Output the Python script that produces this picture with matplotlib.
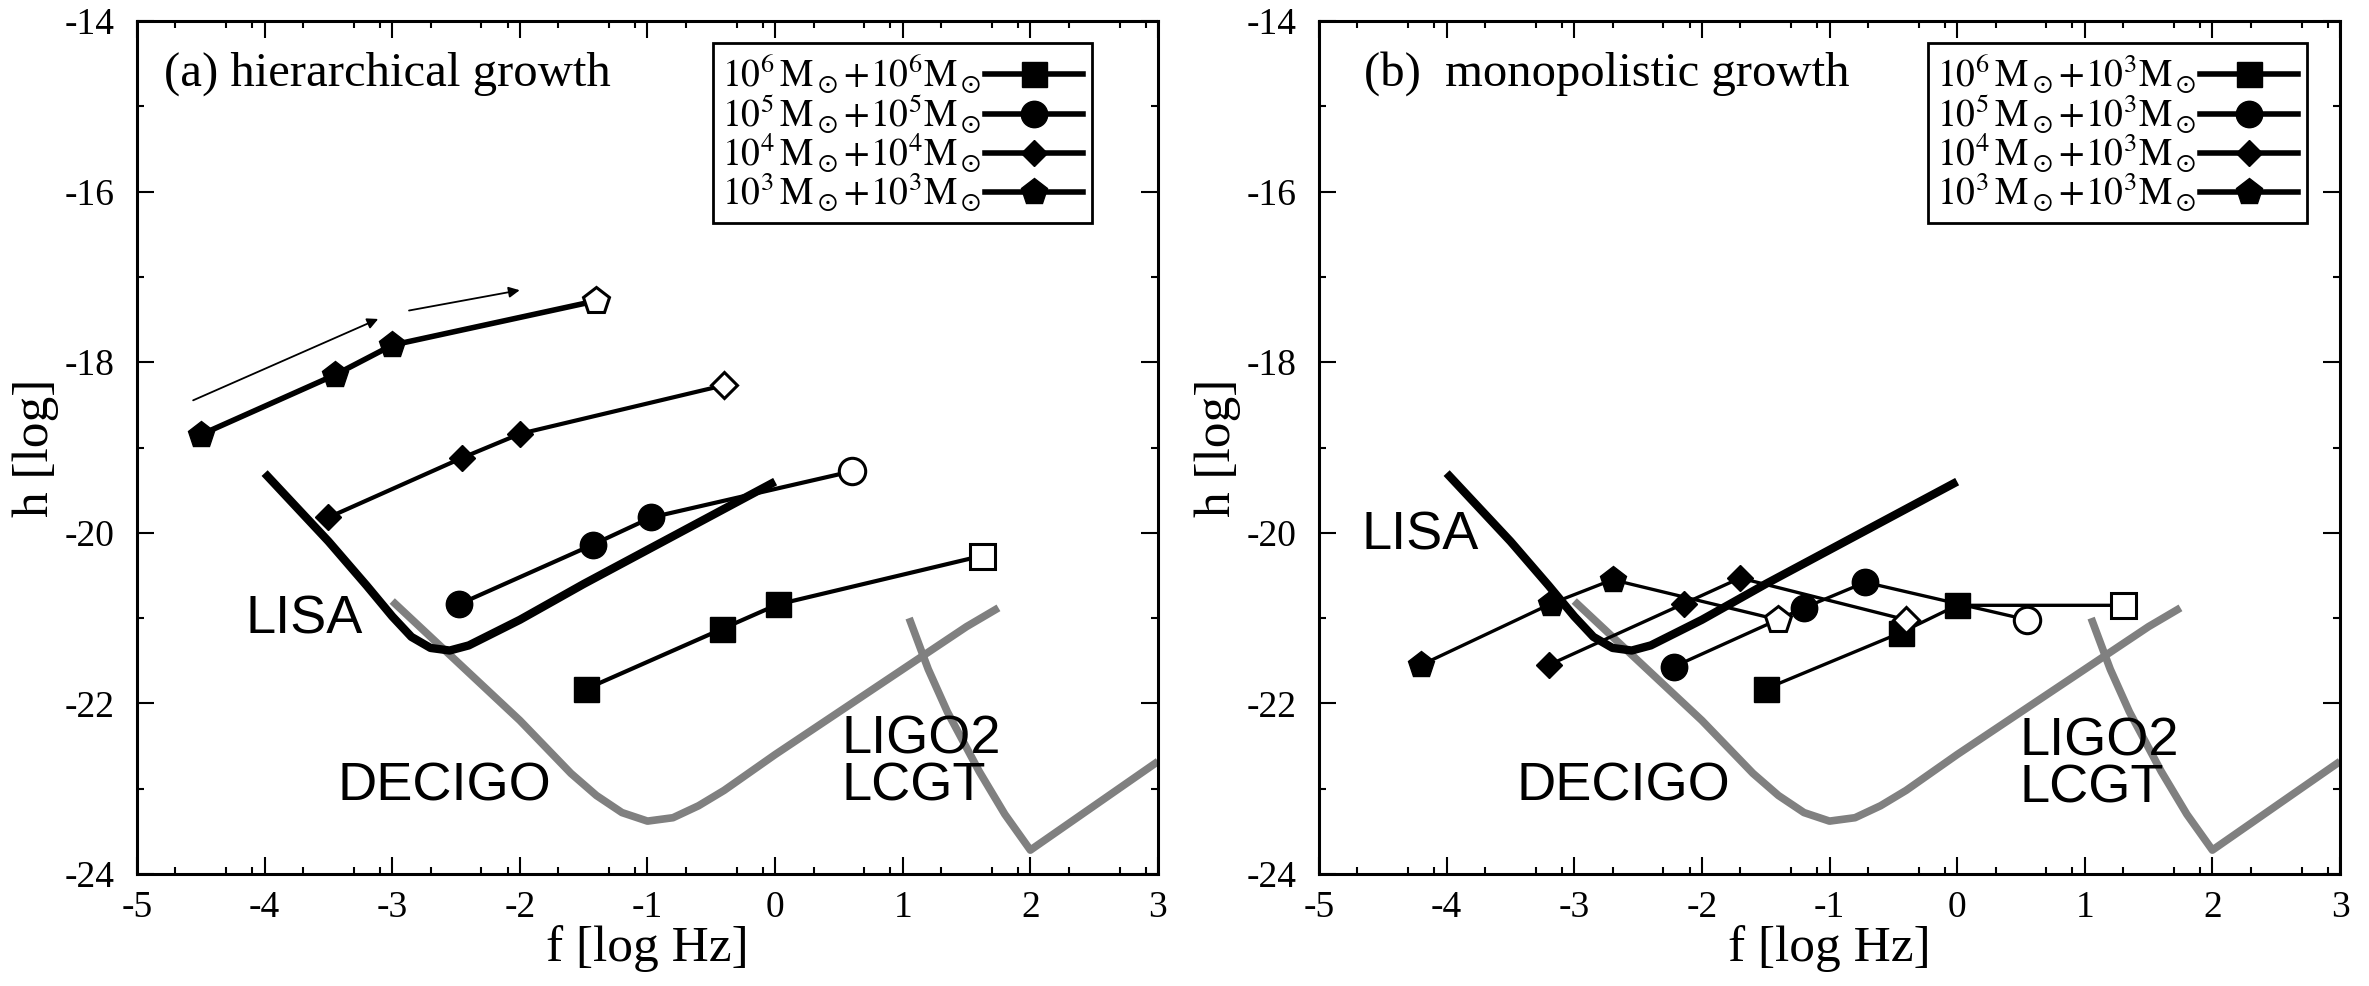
import numpy as np
import matplotlib
matplotlib.use("Agg")
from matplotlib import pyplot as plt
from matplotlib.lines import Line2D

plt.rcParams['mathtext.fontset'] = 'stix'
plt.rcParams['font.family'] = ['Liberation Serif', 'DejaVu Serif']
plt.rcParams['axes.unicode_minus'] = False

# detector sensitivity curves (log f, log h)
lisa_x = [-4.0, -3.5, -3.2, -3.0, -2.85, -2.7, -2.55, -2.4, -2.0, -1.5, -1.0, -0.5, 0.0]
lisa_y = [-19.3, -20.1, -20.62, -20.98, -21.22, -21.35, -21.38, -21.32, -21.02, -20.6, -20.2, -19.8, -19.4]
decigo_x = [-3.0, -2.5, -2.0, -1.6, -1.4, -1.2, -1.0, -0.8, -0.6, -0.4, 0.0, 0.5, 1.0, 1.5, 1.75]
decigo_y = [-20.8, -21.5, -22.2, -22.82, -23.08, -23.28, -23.38, -23.34, -23.2, -23.02, -22.6, -22.1, -21.6, -21.1, -20.88]
ligo_x = [1.05, 1.2, 1.35, 1.6, 1.8, 2.0, 2.5, 3.0]
ligo_y = [-21.0, -21.6, -22.1, -22.8, -23.3, -23.72, -23.2, -22.68]

# (a) hierarchical growth
hier_sq_x = [-1.48, -0.42, 0.02, 1.62]
hier_sq_y = [-21.83, -21.13, -20.84, -20.27]
hier_circ_x = [-2.48, -1.43, -0.97, 0.6]
hier_circ_y = [-20.84, -20.14, -19.82, -19.28]
hier_diam_x = [-3.5, -2.45, -2.0, -0.4]
hier_diam_y = [-19.82, -19.12, -18.84, -18.27]
hier_pent_x = [-4.5, -3.45, -3.0, -1.4]
hier_pent_y = [-18.85, -18.15, -17.8, -17.28]
hier_labels = [r'$10^6\,\mathrm{M}_\odot\!+\!10^6\mathrm{M}_\odot$',
               r'$10^5\,\mathrm{M}_\odot\!+\!10^5\mathrm{M}_\odot$',
               r'$10^4\,\mathrm{M}_\odot\!+\!10^4\mathrm{M}_\odot$',
               r'$10^3\,\mathrm{M}_\odot\!+\!10^3\mathrm{M}_\odot$']

# (b) monopolistic growth
mono_sq_x = [-1.5, -0.44, 0.0, 1.3]
mono_sq_y = [-21.83, -21.17, -20.85, -20.85]
mono_circ_x = [-2.22, -1.2, -0.72, 0.55]
mono_circ_y = [-21.57, -20.88, -20.58, -21.02]
mono_diam_x = [-3.2, -2.14, -1.7, -0.4]
mono_diam_y = [-21.55, -20.83, -20.53, -21.02]
mono_pent_x = [-4.2, -3.18, -2.7, -1.4]
mono_pent_y = [-21.55, -20.83, -20.55, -21.02]
mono_labels = [r'$10^6\,\mathrm{M}_\odot\!+\!10^3\mathrm{M}_\odot$',
               r'$10^5\,\mathrm{M}_\odot\!+\!10^3\mathrm{M}_\odot$',
               r'$10^4\,\mathrm{M}_\odot\!+\!10^3\mathrm{M}_\odot$',
               r'$10^3\,\mathrm{M}_\odot\!+\!10^3\mathrm{M}_\odot$']

markers = ['s', 'o', 'D', 'p']
msizes = [18, 19, 13, 20]

# growth direction arrows in panel (a)
arrows_a = [((-4.58, -18.46), (-3.09, -17.48)), ((-2.89, -17.40), (-1.98, -17.15))]

sans = ['Liberation Sans', 'DejaVu Sans']


def draw_panel(ax, series, labels, lws, title, txt, legend_x):
    ax.plot(decigo_x, decigo_y, color='#808080', lw=5.5, solid_capstyle='butt')
    ax.plot(ligo_x, ligo_y, color='#808080', lw=5.5, solid_capstyle='butt')
    ax.plot(lisa_x, lisa_y, color='black', lw=6, solid_capstyle='butt')
    handles = []
    for (xs, ys), m, ms, lw, lab in zip(series, markers, msizes, lws, labels):
        ax.plot(xs, ys, color='black', lw=lw, zorder=3)
        ax.plot(xs[:-1], ys[:-1], ls='none', marker=m, ms=ms, color='black', zorder=4)
        ax.plot(xs[-1:], ys[-1:], ls='none', marker=m, ms=ms, mfc='white', mec='black',
                mew=2.2, zorder=4)
        handles.append(Line2D([], [], color='black', lw=4, marker=m, ms=ms, label=lab))
    ax.text(txt[0][0], txt[0][1], 'LISA', family=sans, fontsize=39, va='center')
    ax.text(txt[1][0], txt[1][1], 'DECIGO', family=sans, fontsize=39, va='center')
    ax.text(txt[2][0], txt[2][1], 'LIGO2', family=sans, fontsize=39, va='center')
    ax.text(txt[3][0], txt[3][1], 'LCGT', family=sans, fontsize=39, va='center')
    ax.text(title[0], -14.62, title[1], fontsize=35, va='center')

    leg = ax.legend(handles=handles, loc='upper right', bbox_to_anchor=(legend_x, 0.974),
                    borderaxespad=0, markerfirst=False, fancybox=False, framealpha=1,
                    edgecolor='black', fontsize=27, handlelength=2.6, handletextpad=0.1,
                    labelspacing=-0.12, borderpad=0.25)
    leg.get_frame().set_linewidth(2)

    ax.set_xlim(-5, 3)
    ax.set_ylim(-24, -14)
    ax.set_xticks(np.arange(-5, 4, 1))
    ax.set_xticks([d + np.log10(k) for d in range(-5, 3) for k in (2, 5, 8)], minor=True)
    ax.set_yticks(np.arange(-24, -13, 2))
    ax.set_yticks(np.arange(-24, -13, 1), minor=True)
    ax.tick_params(which='both', direction='in', top=True, right=True, width=1.5,
                   labelsize=27)
    ax.tick_params(which='major', length=12)
    ax.tick_params(which='minor', length=5)
    ax.tick_params(axis='x', pad=12)
    ax.tick_params(axis='y', pad=16)
    for s in ax.spines.values():
        s.set_linewidth(2.2)
    ax.set_xlabel('f [log Hz]', fontsize=37, labelpad=0)
    ax.set_ylabel('h [log]', fontsize=37, labelpad=4)


fig = plt.figure(figsize=(23.69, 9.86), dpi=100)
ax1 = fig.add_axes([0.05783, 0.11359, 0.43098, 0.86511])
ax2 = fig.add_axes([0.55678, 0.11359, 0.43098, 0.86511])

hier = [(hier_sq_x, hier_sq_y), (hier_circ_x, hier_circ_y),
        (hier_diam_x, hier_diam_y), (hier_pent_x, hier_pent_y)]
mono = [(mono_sq_x, mono_sq_y), (mono_circ_x, mono_circ_y),
        (mono_diam_x, mono_diam_y), (mono_pent_x, mono_pent_y)]

txt_a = [(-4.15, -21.02), (-3.43, -22.97), (0.52, -22.42), (0.52, -22.97)]
txt_b = [(-4.67, -20.03), (-3.45, -22.97), (0.49, -22.45), (0.49, -23.0)]

draw_panel(ax1, hier, hier_labels, [3, 3, 3, 4], (-4.79, '(a) hierarchical growth'), txt_a, 0.9354)
draw_panel(ax2, mono, mono_labels, [2.4] * 4, (-4.65, '(b)  monopolistic growth'), txt_b, 0.9677)

for start, end in arrows_a:
    ax1.annotate('', xy=end, xytext=start,
                 arrowprops=dict(arrowstyle='-|>', lw=1.3, color='black', mutation_scale=16))

fig.savefig('out.png', dpi=100)
